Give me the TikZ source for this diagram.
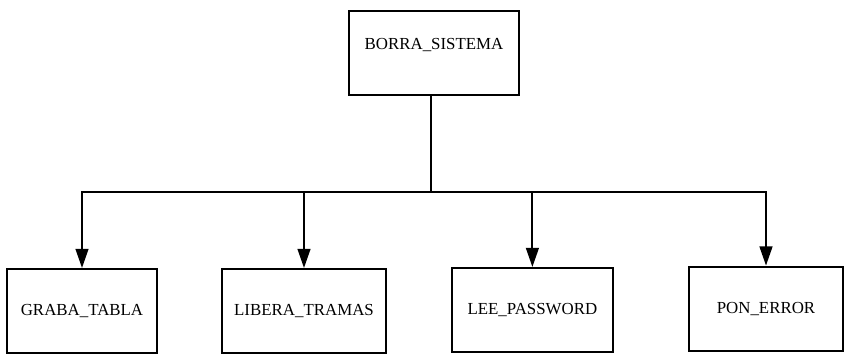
\documentclass[tikz,border=0pt]{standalone}
\usepackage{fontspec}
\setmainfont{Liberation Serif}
\usetikzlibrary{arrows.meta,positioning}

\begin{document}
\begin{tikzpicture}[
  box/.style={draw, line width=1.4pt, minimum height=2.1cm, inner sep=0pt, font=\fontsize{12}{14}\selectfont, align=center},
  arr/.style={-{Triangle[length=0.48cm,width=0.32cm]}, line width=1.4pt},
]
\useasboundingbox (0,0) rectangle (21.15,8.875);
\node[box, minimum width=4.25cm, text height=0.97cm, text depth=1.13cm, minimum height=0cm] (borra) at (10.85,7.55)
  {BORRA\_SISTEMA};
\node[box, minimum width=3.75cm] (graba) at (2.05,1.1) {GRABA\_TABLA};
\node[box, minimum width=4.1cm] (libera) at (7.6,1.1) {LIBERA\_TRAMAS};
\node[box, minimum width=4.025cm] (lee) at (13.31,1.125) {LEE\_PASSWORD};
\node[box, minimum width=3.85cm] (pon) at (19.15,1.16) {PON\_ERROR};
\coordinate (bus) at (10.78,4.075);
\draw[line width=1.4pt] (borra.south -| bus) -- (bus);
\draw[arr] (bus) -| (graba.north);
\draw[arr] (bus) -| (libera.north);
\draw[arr] (bus) -| (lee.north);
\draw[arr] (bus) -| (pon.north);
\end{tikzpicture}
\end{document}
